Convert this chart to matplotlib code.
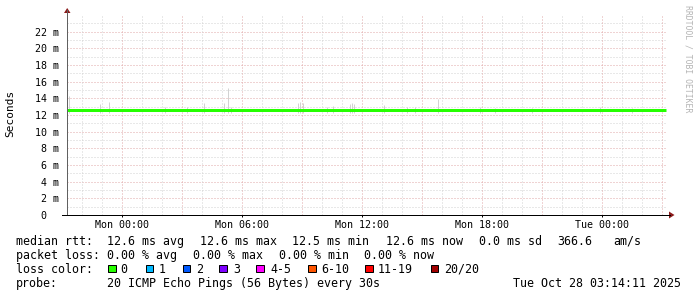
import matplotlib
matplotlib.use("Agg")
import matplotlib.pyplot as plt
from matplotlib.patches import Polygon, Rectangle
from matplotlib.lines import Line2D

# ---------------- data ----------------
# time in hours relative to Mon 00:00
median_hours = [-2.75, -2, -1, 0, 1, 2, 3, 4, 5, 6, 7, 8, 9, 10, 11, 12, 13, 14,
                15, 16, 17, 18, 19, 20, 21, 22, 23, 24, 25, 26, 27, 27.2]
median_ms = [12.55, 12.55, 12.55, 12.55, 12.55, 12.55, 12.55, 12.55, 12.55, 12.55,
             12.55, 12.55, 12.55, 12.55, 12.55, 12.55, 12.55, 12.55, 12.55, 12.55,
             12.55, 12.55, 12.55, 12.55, 12.55, 12.55, 12.55, 12.55, 12.55, 12.55,
             12.55, 12.55]

smoke_hours = [-2.64, -1.09, -0.64, 2.15, 3.24, 4.1, 5.12, 5.28, 5.44, 8.8, 8.9,
               9.04, 10.24, 10.57, 11.38, 11.5, 11.6, 13.12, 14.24, 14.65, 15.82,
               17.9, 18.65, 20.49, 23.9, 25.49]
smoke_top_ms = [14.3, 13.3, 13.6, 12.95, 13.0, 13.4, 13.4, 15.25, 13.0, 13.5, 13.6,
                13.5, 12.95, 13.1, 13.3, 13.4, 13.3, 13.15, 13.0, 13.0, 13.95,
                13.0, 12.9, 12.9, 13.0, 12.9]

tick_hours = [0, 6, 12, 18, 24]
tick_labels = ["Mon 00:00", "Mon 06:00", "Mon 12:00", "Mon 18:00", "Tue 00:00"]
ytick_ms = [0, 2, 4, 6, 8, 10, 12, 14, 16, 18, 20, 22]
ytick_labels = ["0\u00a0\u00a0", "2 m", "4 m", "6 m", "8 m", "10 m", "12 m",
                "14 m", "16 m", "18 m", "20 m", "22 m"]

stats_rtt = ["12.6 ms avg", "12.6 ms max", "12.5 ms min", "12.6 ms now",
             "0.0 ms sd", "366.6", "am/s"]
stats_loss = ["0.00 % avg", "0.00 % max", "0.00 % min", "0.00 % now"]
loss_labels = ["0", "1", "2", "3", "4-5", "6-10", "11-19", "20/20"]
loss_colors = ["#26ff00", "#00b8ff", "#0059ff", "#7e00ff", "#ff00ff", "#ff5500",
               "#ff0000", "#a00000"]
probe_text = "20 ICMP Echo Pings (56 Bytes) every 30s"
stamp_text = "Tue Oct 28 03:14:11 2025"

# ---------------- layout ----------------
W, H = 697, 297
DPI = 100
MONO = "DejaVu Sans Mono"
plt.rcParams["font.family"] = MONO

fig = plt.figure(figsize=(W / DPI, H / DPI), dpi=DPI)
fig.patch.set_facecolor("white")

def fx(x):
    return x / W

def fy(y):
    return 1 - y / H

ax_l, ax_r, ax_t, ax_b = 67, 667, 15, 215
ax = fig.add_axes([fx(ax_l), fy(ax_b), (ax_r - ax_l) / W, (ax_b - ax_t) / H])
ax.set_facecolor("white")
ax.set_xlim(-2.75, 27.25)
ax.set_ylim(0, 24)
for s in ax.spines.values():
    s.set_visible(False)

px = 0.72  # one pixel in points
minor_c = "#d2d2d2"
major_c = "#e0a8a8"
dots = (0, (1, 2))

# horizontal grid
for v in range(1, 24):
    c = major_c if v % 2 == 0 else minor_c
    ax.axhline(v, color=c, lw=px, ls=dots, zorder=1)
# vertical grid
for h in range(-2, 28):
    c = major_c if h % 3 == 0 else minor_c
    ax.axvline(h, color=c, lw=px, ls=dots, zorder=1 + (h % 3 == 0))

# smoke
ax.vlines(smoke_hours, 12.3, smoke_top_ms, color="#d2d2d2", lw=px, zorder=3)
# median
ax.plot(median_hours, median_ms, color=loss_colors[0], lw=3 * px, zorder=4,
        solid_capstyle="butt")

ax.set_xticks(tick_hours, tick_labels)
ax.set_yticks(ytick_ms, ytick_labels)
ax.tick_params(axis="x", length=1.5, width=px, color="black", pad=1.8,
               labelsize=7.2, labelcolor="black")
ax.tick_params(axis="y", length=0, pad=5.6, labelsize=7.2, labelcolor="black")

# axis lines and arrows
fig.add_artist(Line2D([fx(67), fx(67)], [fy(215), fy(10)], color="#606060",
                      lw=px))
fig.add_artist(Line2D([fx(62), fx(670)], [fy(215), fy(215)], color="black",
                      lw=px))
arrow_c = "#8b1a1a"
fig.add_artist(Polygon([[fx(64), fy(13)], [fx(70.5), fy(13)], [fx(67.2), fy(8)]],
                       closed=True, transform=fig.transFigure, color=arrow_c,
                       lw=0))
fig.add_artist(Polygon([[fx(669), fy(211.5)], [fx(669), fy(218.5)],
                        [fx(674.5), fy(215)]],
                       closed=True, transform=fig.transFigure, color=arrow_c,
                       lw=0))

# y label and watermark
fig.text(fx(10.5), fy(113.5), "Seconds", rotation=90, ha="center",
         va="center", fontsize=8, family=MONO)
fig.text(fx(688), fy(59), "RRDTOOL / TOBI OETIKER", rotation=270,
         ha="center", va="center", fontsize=5.9, family=MONO, color="#b4b4b4")

# legend
FS = 8.4

def t(x, y, s):
    fig.text(fx(x - 0.7), fy(y), s, ha="left", va="baseline", fontsize=FS,
             family=MONO, color="black")

b1, b2, b3, b4 = 245, 259, 273, 287
t(16.5, b1, "median rtt:")
for x, s in zip([107.3, 200.3, 293.2, 386.7, 479.3, 558.3, 614.2], stats_rtt):
    t(x, b1, s)
t(16.5, b2, "packet loss:")
for x, s in zip([107.3, 193.3, 279.3, 365.0], stats_loss):
    t(x, b2, s)
t(16.5, b3, "loss color:")
sw_x = [108.3, 145.7, 182.7, 219.3, 256, 308, 365, 430.7]
lb_x = [120.7, 159.0, 196.7, 234.0, 270.7, 321.7, 378.3, 445.0]
for sx, lx, s, c in zip(sw_x, lb_x, loss_labels, loss_colors):
    fig.add_artist(Rectangle((fx(sx), fy(272.2)), 7.6 / W, 7.6 / H,
                             transform=fig.transFigure, facecolor=c,
                             edgecolor="black", lw=px))
    t(lx, b3, s)
t(16.5, b4, "probe:")
t(107.3, b4, probe_text)
t(513.3, b4, stamp_text)

fig.savefig("out.png", dpi=DPI, facecolor="white")
